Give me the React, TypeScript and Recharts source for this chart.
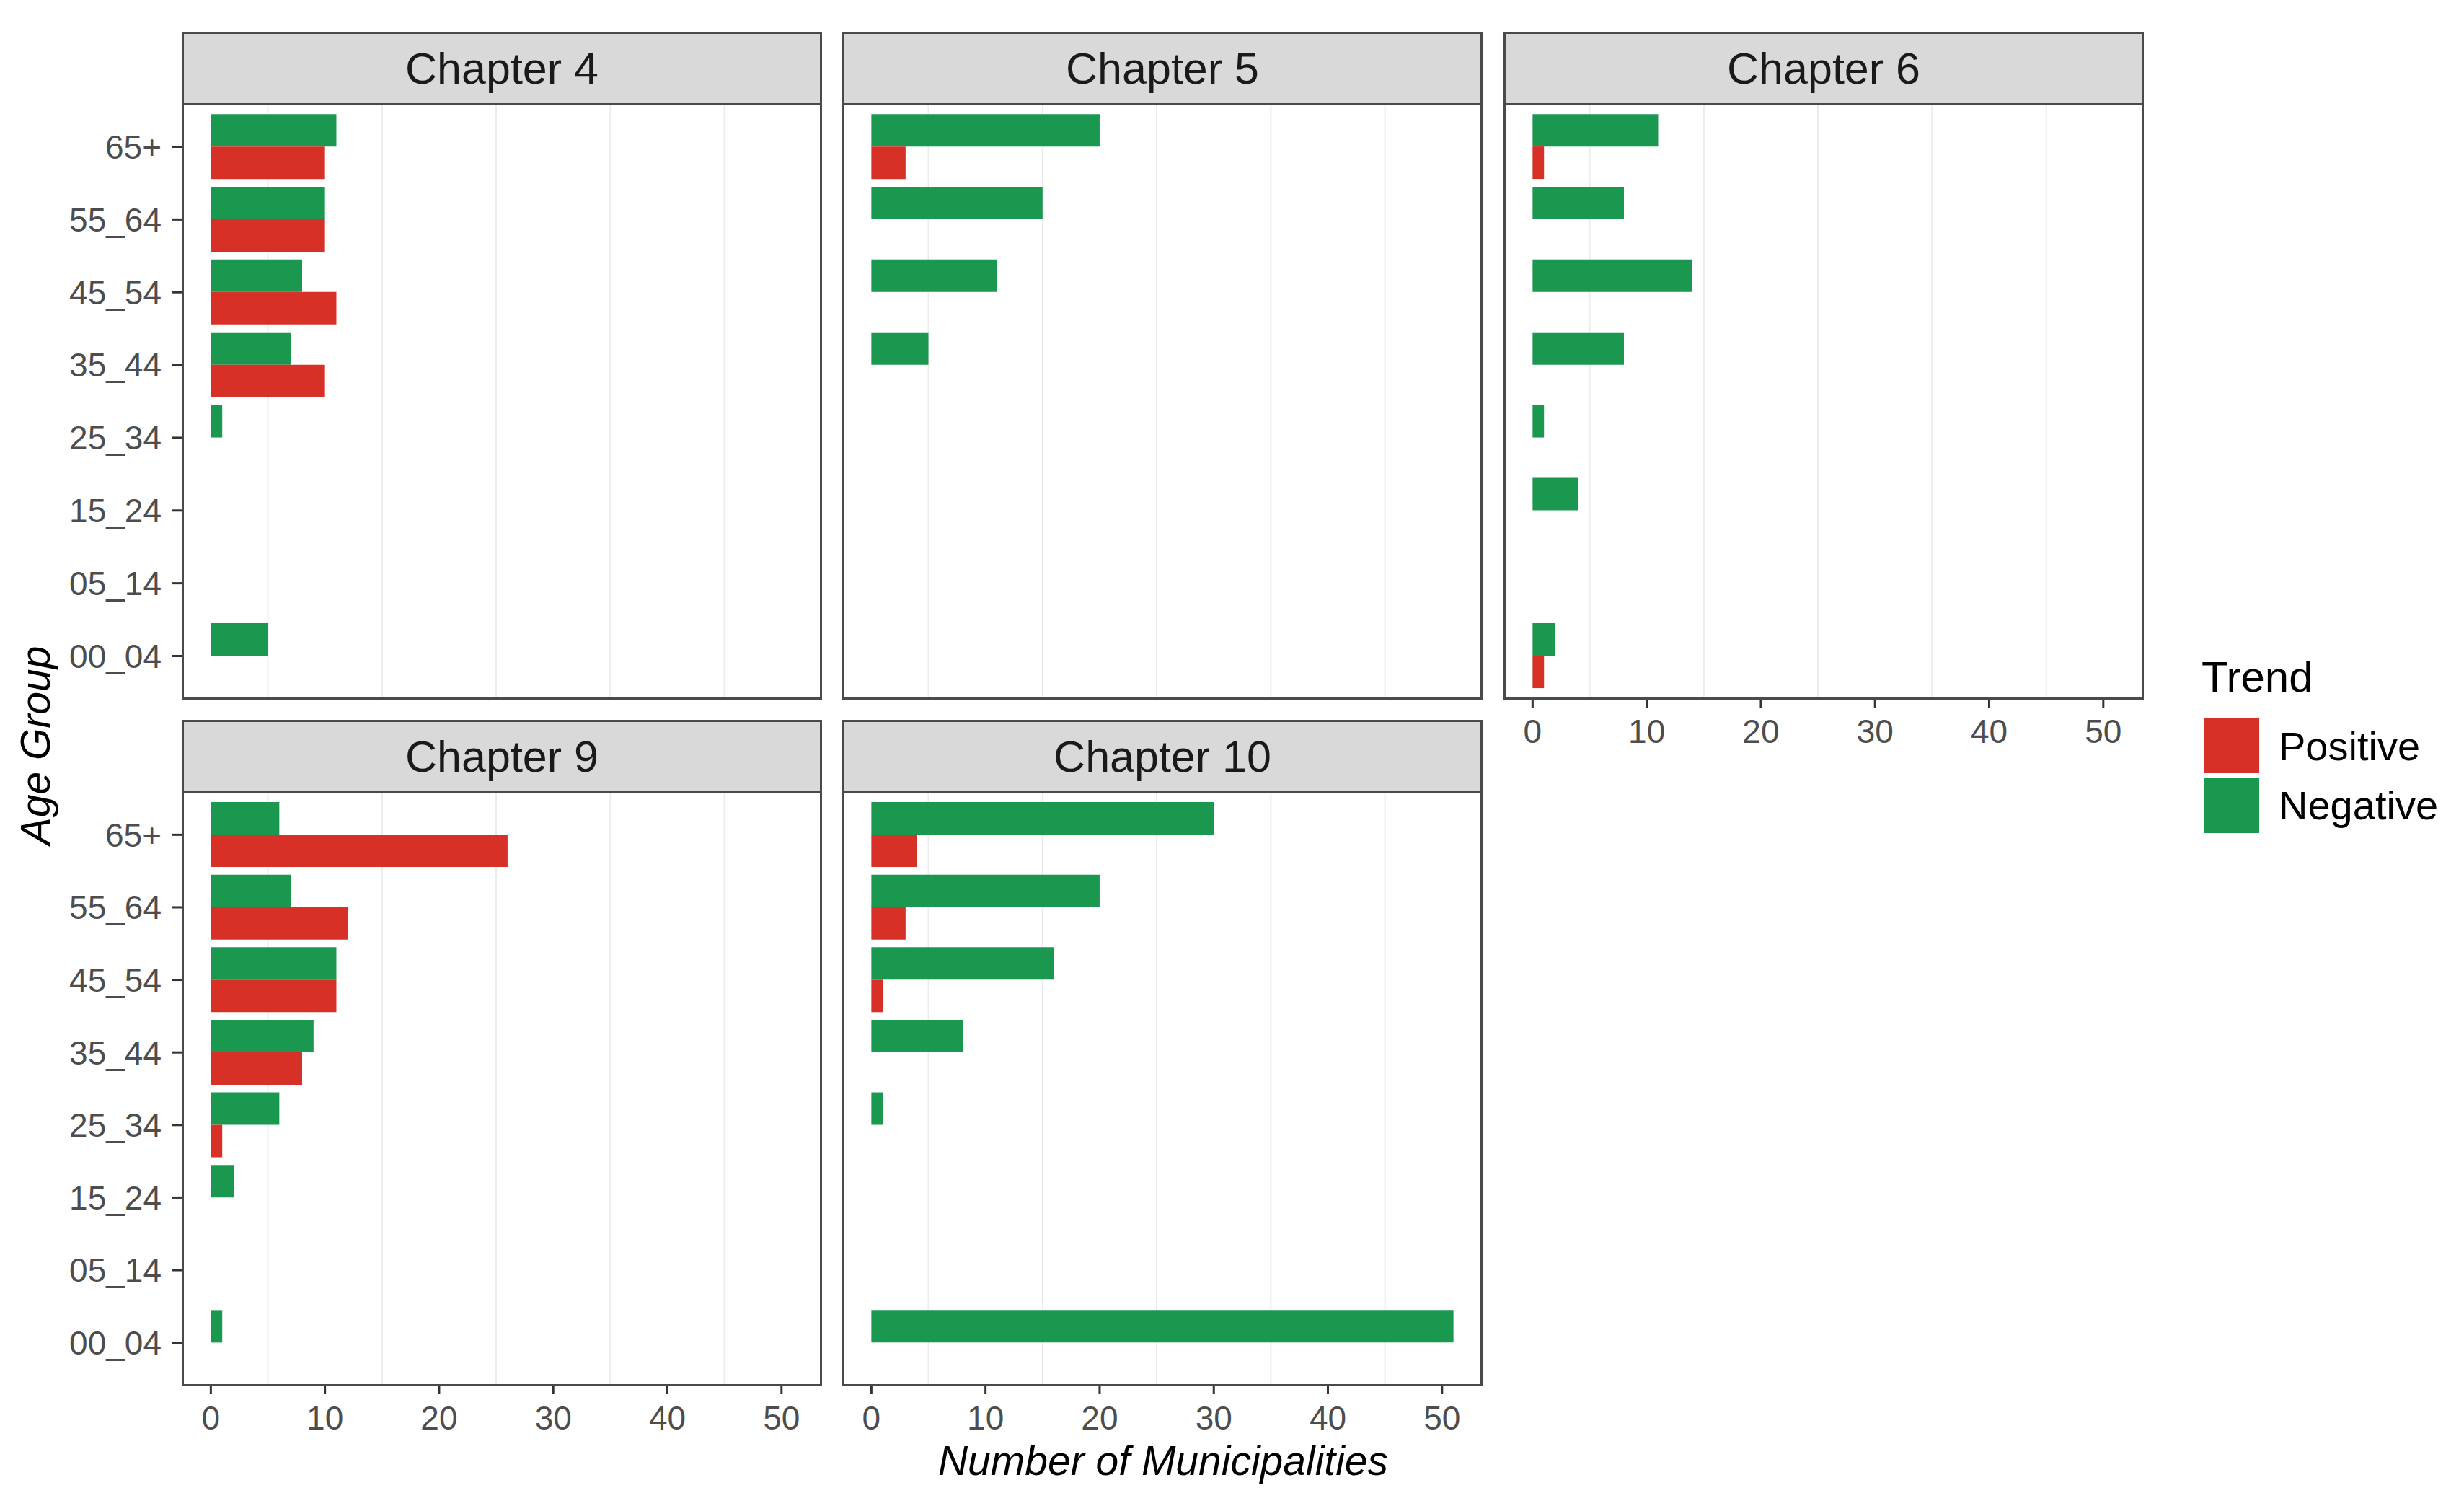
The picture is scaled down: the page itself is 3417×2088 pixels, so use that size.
import React from 'react';
import { BarChart, Bar, XAxis, YAxis, CartesianGrid } from 'recharts';

// ---------- data ----------
const ageGroups = ['65+', '55_64', '45_54', '35_44', '25_34', '15_24', '05_14', '00_04'];

const ch4Negative = [11, 10, 8, 7, 1, 0, 0, 5];
const ch4Positive = [10, 10, 11, 10, 0, 0, 0, 0];
const ch5Negative = [20, 15, 11, 5, 0, 0, 0, 0];
const ch5Positive = [3, 0, 0, 0, 0, 0, 0, 0];
const ch6Negative = [11, 8, 14, 8, 1, 4, 0, 2];
const ch6Positive = [1, 0, 0, 0, 0, 0, 0, 1];
const ch9Negative = [6, 7, 11, 9, 6, 2, 0, 1];
const ch9Positive = [26, 12, 11, 8, 1, 0, 0, 0];
const ch10Negative = [30, 20, 16, 8, 1, 0, 0, 51];
const ch10Positive = [4, 3, 1, 0, 0, 0, 0, 0];

const xTicks = [0, 10, 20, 30, 40, 50];
const minorGrid = [5, 15, 25, 35, 45];
const xDomain: [number, number] = [-2.55, 53.55];

const legendLabels = ['Positive', 'Negative'];

// ---------- style ----------
const FONT = '"Liberation Sans", Arial, Helvetica, sans-serif';
const GREEN = '#1A9850';
const RED = '#D73027';
const BORDER = '#4a4a4a';
const PANEL_W = 888;
const Y_AXIS_W = 252;
const X_AXIS_H = 75;
const TICK_FONT = 46;

const EmptyTick = () => <g />;

function buildRows(neg: number[], pos: number[]) {
  return ageGroups.map((age, i) => ({ age, Negative: neg[i], Positive: pos[i] }));
}

type PanelProps = {
  title: string;
  negative: number[];
  positive: number[];
  x: number;
  stripTop: number;
  panelTop: number;
  panelH: number;
  showY: boolean;
  showX: boolean;
};

function Panel({ title, negative, positive, x, stripTop, panelTop, panelH, showY, showX }: PanelProps) {
  const data = buildRows(negative, positive);
  const yW = showY ? Y_AXIS_W : 0;
  const xH = showX ? X_AXIS_H : 0;
  const pad = (panelH / 8.2) * 0.1;
  return (
    <>
      <div
        style={{
          position: 'absolute',
          left: x,
          top: stripTop,
          width: PANEL_W,
          height: panelTop - stripTop + 3,
          boxSizing: 'border-box',
          background: '#D9D9D9',
          border: `3px solid ${BORDER}`,
          display: 'flex',
          alignItems: 'center',
          justifyContent: 'center',
          paddingTop: 1,
          fontFamily: FONT,
          fontSize: 61,
          lineHeight: 1,
          color: '#1A1A1A',
        }}
      >
        {title}
      </div>
      <div style={{ position: 'absolute', left: x - yW, top: panelTop }}>
        <BarChart
          width={PANEL_W + yW}
          height={panelH + xH}
          data={data}
          layout="vertical"
          margin={{ top: 0, right: 0, bottom: 0, left: 0 }}
          barCategoryGap="5%"
          barGap={0}
        >
          <CartesianGrid
            horizontal={false}
            verticalValues={minorGrid}
            stroke="#EBEBEB"
            strokeWidth={2}
          />
          <XAxis
            type="number"
            domain={xDomain}
            ticks={xTicks}
            interval={0}
            height={xH}
            tickSize={showX ? 11 : 0}
            tickMargin={16}
            axisLine={false}
            tickLine={showX ? { stroke: '#333333', strokeWidth: 3 } : false}
            tick={showX ? { fill: '#4D4D4D', fontSize: TICK_FONT, fontFamily: FONT } : EmptyTick}
          />
          <YAxis
            type="category"
            dataKey="age"
            hide={!showY}
            width={yW}
            interval={0}
            padding={{ top: pad, bottom: pad }}
            tickSize={14}
            tickMargin={14}
            axisLine={false}
            tickLine={{ stroke: '#333333', strokeWidth: 3 }}
            tick={{ fill: '#4D4D4D', fontSize: TICK_FONT, fontFamily: FONT }}
          />
          <Bar dataKey="Negative" fill={GREEN} isAnimationActive={false} />
          <Bar dataKey="Positive" fill={RED} isAnimationActive={false} />
        </BarChart>
      </div>
      <div
        style={{
          position: 'absolute',
          left: x,
          top: panelTop,
          width: PANEL_W,
          height: panelH,
          boxSizing: 'border-box',
          border: `3px solid ${BORDER}`,
          pointerEvents: 'none',
        }}
      />
    </>
  );
}

export default function App() {
  const colX = [252, 1168, 2085];
  return (
    <div
      style={{
        position: 'absolute',
        left: 0,
        top: 0,
        width: 3417,
        height: 2088,
        background: '#ffffff',
        fontFamily: FONT,
        overflow: 'hidden',
      }}
    >
      <Panel title="Chapter 4" negative={ch4Negative} positive={ch4Positive} x={colX[0]} stripTop={44} panelTop={143} panelH={827} showY showX={false} />
      <Panel title="Chapter 5" negative={ch5Negative} positive={ch5Positive} x={colX[1]} stripTop={44} panelTop={143} panelH={827} showY={false} showX={false} />
      <Panel title="Chapter 6" negative={ch6Negative} positive={ch6Positive} x={colX[2]} stripTop={44} panelTop={143} panelH={827} showY={false} showX />
      <Panel title="Chapter 9" negative={ch9Negative} positive={ch9Positive} x={colX[0]} stripTop={998} panelTop={1097} panelH={825} showY showX />
      <Panel title="Chapter 10" negative={ch10Negative} positive={ch10Positive} x={colX[1]} stripTop={998} panelTop={1097} panelH={825} showY={false} showX />

      {/* axis titles */}
      <div
        style={{
          position: 'absolute',
          left: 1613 - 700,
          top: 1997,
          width: 1400,
          textAlign: 'center',
          fontSize: 57,
          lineHeight: 1,
          fontStyle: 'italic',
          color: '#000',
        }}
      >
        Number of Municipalities
      </div>
      <div
        style={{
          position: 'absolute',
          left: 49 - 300,
          top: 1033 - 28.5,
          width: 600,
          height: 57,
          lineHeight: '57px',
          textAlign: 'center',
          fontSize: 57,
          fontStyle: 'italic',
          color: '#000',
          transform: 'rotate(-90deg)',
        }}
      >
        Age Group
      </div>

      {/* legend */}
      <div style={{ position: 'absolute', left: 3053, top: 909, fontSize: 60, lineHeight: 1, color: '#000' }}>Trend</div>
      <div style={{ position: 'absolute', left: 3057, top: 996, width: 76, height: 76, background: RED }} />
      <div style={{ position: 'absolute', left: 3057, top: 1079, width: 76, height: 76, background: GREEN }} />
      <div style={{ position: 'absolute', left: 3160, top: 1007, fontSize: 56, lineHeight: 1, color: '#000' }}>{legendLabels[0]}</div>
      <div style={{ position: 'absolute', left: 3160, top: 1089, fontSize: 56, lineHeight: 1, color: '#000' }}>{legendLabels[1]}</div>
    </div>
  );
}
